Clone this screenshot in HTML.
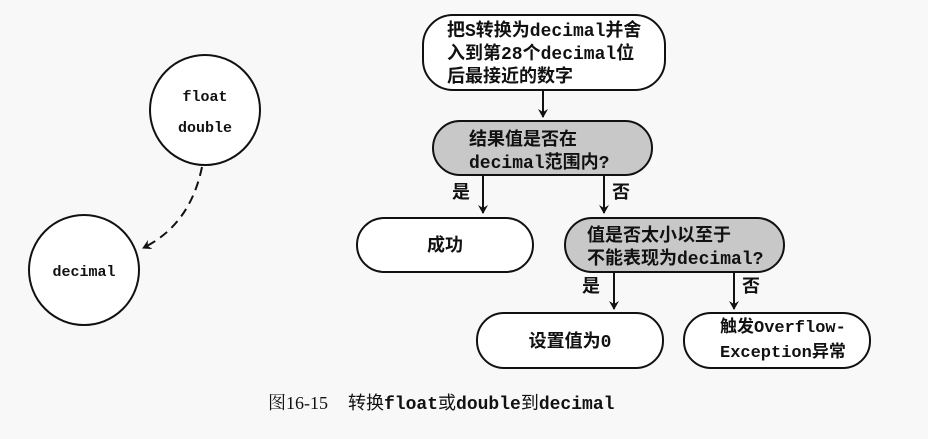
<!DOCTYPE html>
<html><head><meta charset="utf-8"><style>
body{margin:0;width:928px;height:434px;background:#f8f8f8;overflow:hidden}
svg text{font-family:"Liberation Mono","Noto Sans CJK SC",monospace;fill:#111}
.m{font-family:"Liberation Mono","Noto Sans CJK SC",monospace;font-weight:bold}
</style></head><body>
<svg width="928" height="434" viewBox="0 0 928 434" xmlns="http://www.w3.org/2000/svg">
<defs><marker id="a" markerWidth="10" markerHeight="10" refX="8" refY="5" orient="auto" markerUnits="userSpaceOnUse"><path d="M0,0 L9,5 L0,10 L3,5 z" fill="#111"/></marker></defs>
<g stroke="#111" stroke-width="2" fill="none">
<circle cx="205" cy="110" r="55" fill="#fff"/>
<circle cx="84" cy="270" r="55" fill="#fff"/>
<path d="M202,167 Q190,225 143,248" stroke-dasharray="9,6" marker-end="url(#a)"/>
<rect x="423" y="15" width="242" height="75" rx="30" fill="#fff"/>
<rect x="433" y="121" width="219" height="54" rx="27" fill="#c8c8c8"/>
<rect x="357" y="218" width="176" height="54" rx="27" fill="#fff"/>
<rect x="565" y="218" width="219" height="54" rx="27" fill="#c8c8c8"/>
<rect x="477" y="313" width="186" height="55" rx="27" fill="#fff"/>
<rect x="684" y="313" width="186" height="55" rx="27" fill="#fff"/>
<line x1="543" y1="90" x2="543" y2="117" marker-end="url(#a)"/>
<line x1="483" y1="175" x2="483" y2="213" marker-end="url(#a)"/>
<line x1="604" y1="175" x2="604" y2="213" marker-end="url(#a)"/>
<line x1="614" y1="272" x2="614" y2="309" marker-end="url(#a)"/>
<line x1="734" y1="272" x2="734" y2="309" marker-end="url(#a)"/>
</g>
<text class="m" x="205" y="101" font-size="15" text-anchor="middle">float</text>
<text class="m" x="205" y="132" font-size="15" text-anchor="middle">double</text>
<text class="m" x="84" y="276" font-size="15" text-anchor="middle">decimal</text>
<g font-size="18" font-weight="bold">
<text x="447" y="36">把S转换为decimal并舍</text>
<text x="447" y="59">入到第28个decimal位</text>
<text x="447" y="82">后最接近的数字</text>
<text x="469" y="145">结果值是否在</text>
<text x="469" y="168">decimal范围内?</text>
<text x="445" y="251" text-anchor="middle">成功</text>
<text x="587" y="241">值是否太小以至于</text>
<text x="587" y="264">不能表现为decimal?</text>
<text x="570" y="347" text-anchor="middle">设置值为0</text>
<text x="720" y="332" font-size="17">触发Overflow-</text>
<text x="720" y="357" font-size="17">Exception异常</text>
<text x="452" y="198">是</text>
<text x="612" y="198">否</text>
<text x="582" y="292">是</text>
<text x="742" y="292">否</text>
</g>
<text x="268" y="409" font-size="18"><tspan font-family="Liberation Serif,Noto Serif CJK SC,serif">图16-15</tspan><tspan dx="20">转换</tspan><tspan font-weight="bold">float</tspan>或<tspan font-weight="bold">double</tspan>到<tspan font-weight="bold">decimal</tspan></text>
</svg>
</body></html>
